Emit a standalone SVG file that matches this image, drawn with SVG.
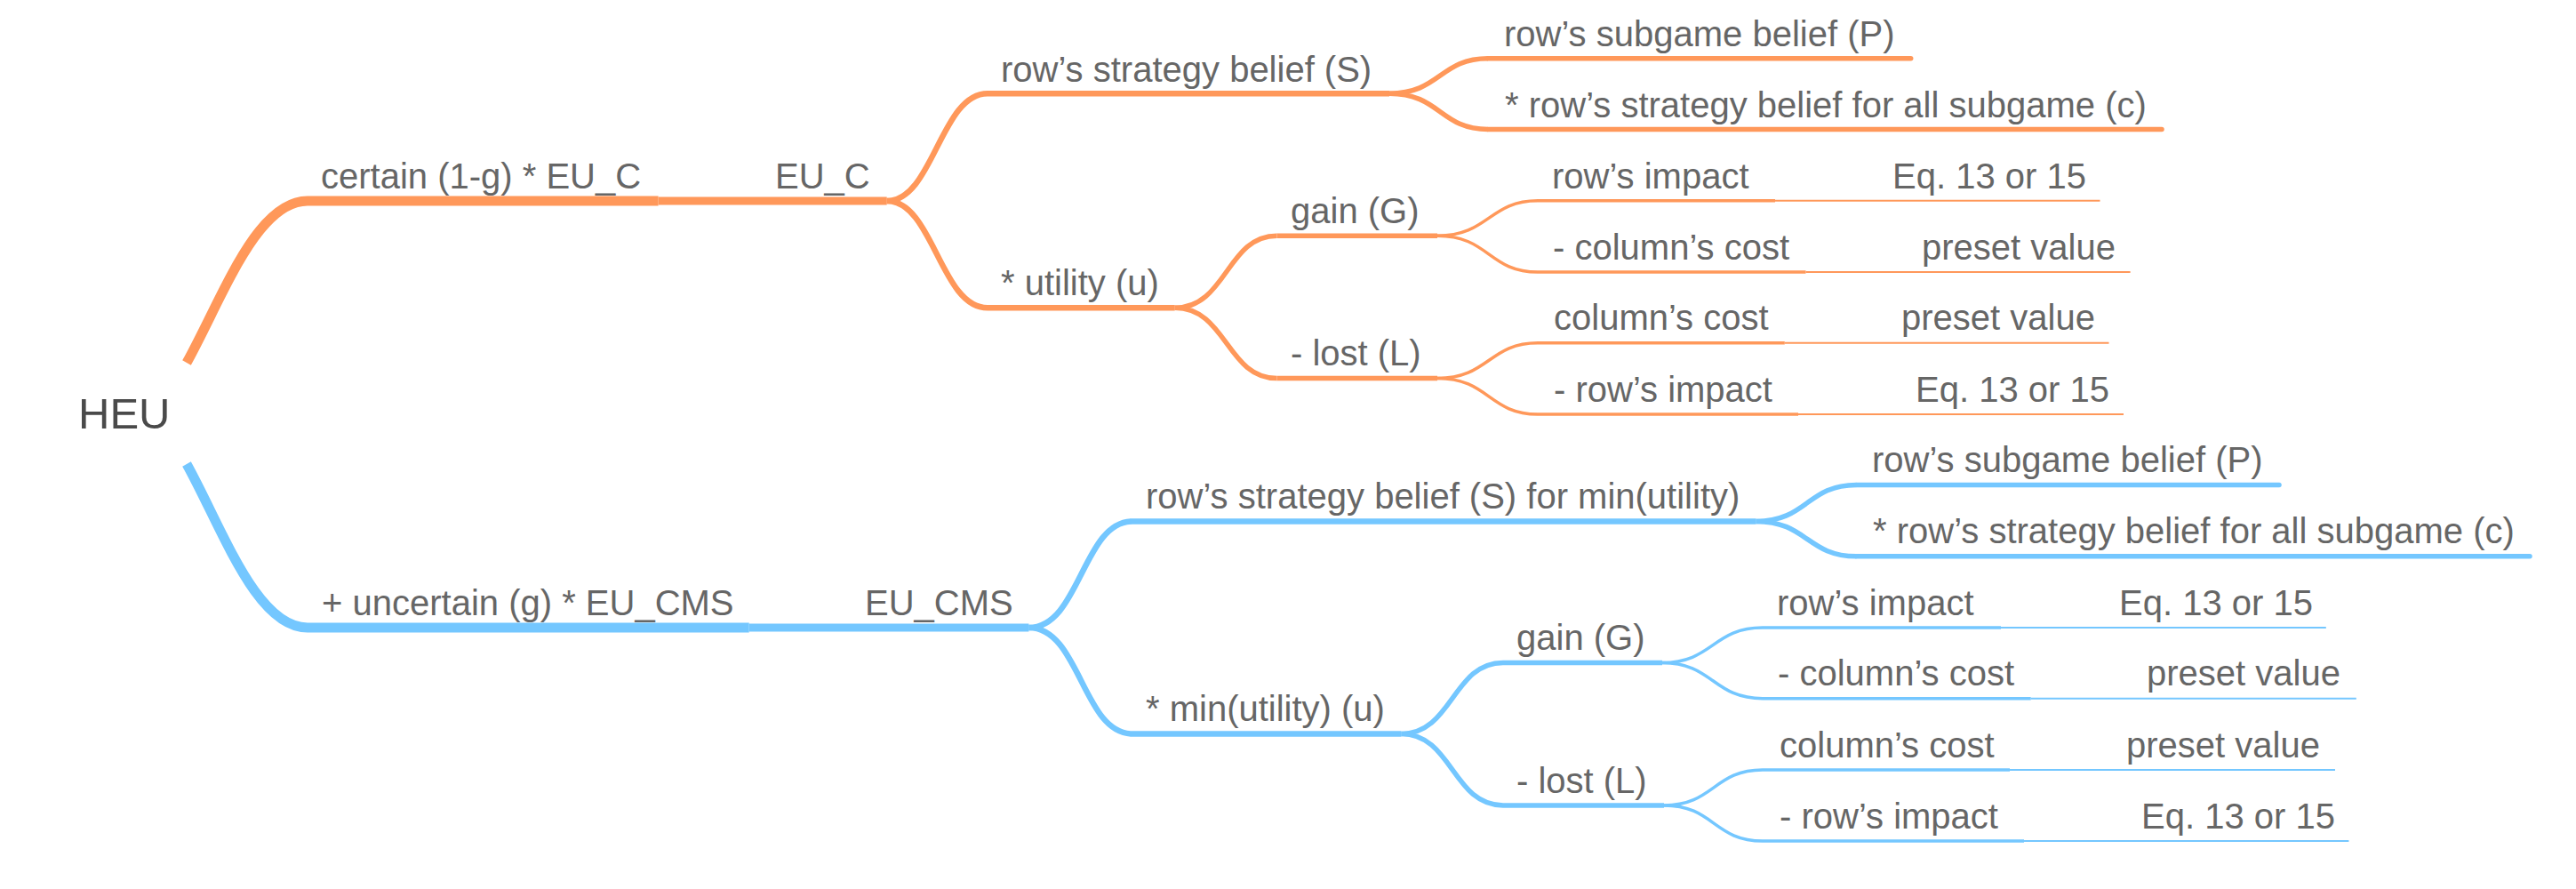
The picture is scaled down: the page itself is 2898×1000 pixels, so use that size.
<svg xmlns="http://www.w3.org/2000/svg" width="2898" height="1000" viewBox="0 0 2898 1000">
<style>
.t{font-family:"Liberation Sans",Arial,Helvetica,sans-serif;font-size:40px;fill:#666666}
.root{font-size:49px;fill:#4a4a4a}
.o{stroke:#FF985A;fill:none}
.b{stroke:#74C7FF;fill:none}
.w11{stroke-width:11}
.w9{stroke-width:9}
.w7{stroke-width:6.5}
.w5{stroke-width:5.5}
.w3{stroke-width:3.5}
.w2{stroke-width:2}
.rc{stroke-linecap:round}
</style>
<rect width="2898" height="1000" fill="#ffffff"/>
<g id="connectors">
  <path class="o w11" d="M210,408 C250,336 288,226 346,226"/>
  <path class="b w11" d="M210,522 C250,594 288,706 346,706"/>
  <path class="o w9" d="M740.6,226 H860"/>
  <path class="b w9" d="M842.7,706 H960"/>
  <path class="o w7" d="M997.7,226 C1050,226 1058,105.2 1111,105.2"/>
  <path class="o w7" d="M997.7,226 C1050,226 1058,346.3 1111,346.3"/>
  <path class="o w5" d="M1563,105.2 C1620,105.2 1620,65.8 1674,65.8"/>
  <path class="o w5" d="M1563,105.2 C1620,105.2 1620,145.4 1674,145.4"/>
  <path class="o w5" d="M1321.7,346.3 C1380,346.3 1380,265.2 1436.5,265.2"/>
  <path class="o w5" d="M1321.7,346.3 C1380,346.3 1380,425.5 1436.5,425.5"/>
  <path class="o w3" d="M1617,265.2 C1675,265.2 1675,225.8 1730,225.8"/>
  <path class="o w3" d="M1617,265.2 C1675,265.2 1675,306.1 1730,306.1"/>
  <path class="o w3" d="M1617,425.5 C1675,425.5 1675,385.7 1730,385.7"/>
  <path class="o w3" d="M1617,425.5 C1675,425.5 1675,466 1730,466"/>
  <path class="o w2" d="M1997,225.8 H2115"/>
  <path class="o w2" d="M2031.5,306.1 H2148"/>
  <path class="o w2" d="M2007.8,385.7 H2124"/>
  <path class="o w2" d="M2023,466 H2140"/>
  <path class="b w7" d="M1157.4,706 C1215,706 1218,586.4 1274,586.4"/>
  <path class="b w7" d="M1157.4,706 C1215,706 1218,825.5 1274,825.5"/>
  <path class="b w5" d="M1975.5,586.4 C2033,586.4 2033,545.4 2088.4,545.4"/>
  <path class="b w5" d="M1975.5,586.4 C2033,586.4 2033,625.8 2088.4,625.8"/>
  <path class="b w5" d="M1576.4,825.5 C1634,825.5 1634,745.5 1691,745.5"/>
  <path class="b w5" d="M1576.4,825.5 C1634,825.5 1634,905.9 1691,905.9"/>
  <path class="b w3" d="M1870,745.5 C1927,745.5 1927,706.1 1983,706.1"/>
  <path class="b w3" d="M1870,745.5 C1927,745.5 1927,785.7 1983,785.7"/>
  <path class="b w3" d="M1872,905.9 C1928,905.9 1928,866 1983,866"/>
  <path class="b w3" d="M1872,905.9 C1928,905.9 1928,946 1983,946"/>
  <path class="b w2" d="M2251,706.1 H2368"/>
  <path class="b w2" d="M2284.7,785.7 H2400"/>
  <path class="b w2" d="M2261,866 H2377"/>
  <path class="b w2" d="M2277,946 H2394"/>
</g>
<g id="n-heu"><text class="t root" x="88" y="482">HEU</text></g>

<g id="n-certain"><path class="o w11" d="M346,226 H740.6"/><text class="t" x="361" y="212">certain (1-g) * EU_C</text></g>
<g id="n-euc"><path class="o w9" d="M860,226 H997.7"/><text class="t" x="872" y="212">EU_C</text></g>
<g id="n-o-s"><path class="o w7" d="M1111,105.2 H1563"/><text class="t" x="1126" y="91.5">row’s strategy belief (S)</text></g>
<g id="n-o-u"><path class="o w7" d="M1111,346.3 H1321.7"/><text class="t" x="1126" y="332">* utility (u)</text></g>
<g id="n-o-p"><path class="o w5 rc" d="M1674,65.8 H2149.7"/><text class="t" x="1692" y="52">row’s subgame belief (P)</text></g>
<g id="n-o-c"><path class="o w5 rc" d="M1674,145.4 H2432"/><text class="t" x="1693" y="131.5">* row’s strategy belief for all subgame (c)</text></g>
<g id="n-o-gain"><path class="o w5" d="M1436.5,265.2 H1617"/><text class="t" x="1452" y="251">gain (G)</text></g>
<g id="n-o-lost"><path class="o w5" d="M1436.5,425.5 H1617"/><text class="t" x="1452" y="411">- lost (L)</text></g>
<g id="n-o-ri"><path class="o w3" d="M1730,225.8 H1997"/><text class="t" x="1746" y="211.5">row’s impact</text></g>
<g id="n-o-eq1"><path class="o w2" d="M2115,225.8 H2362.5"/><text class="t" x="2129" y="211.5">Eq. 13 or 15</text></g>
<g id="n-o-cc"><path class="o w3" d="M1730,306.1 H2031.5"/><text class="t" x="1747" y="291.8">- column’s cost</text></g>
<g id="n-o-pv1"><path class="o w2" d="M2148,306.1 H2396.6"/><text class="t" x="2162" y="291.8">preset value</text></g>
<g id="n-o-cc2"><path class="o w3" d="M1730,385.7 H2007.8"/><text class="t" x="1748" y="371.4">column’s cost</text></g>
<g id="n-o-pv2"><path class="o w2" d="M2124,385.7 H2372.5"/><text class="t" x="2139" y="371.4">preset value</text></g>
<g id="n-o-ri2"><path class="o w3" d="M1730,466 H2023"/><text class="t" x="1748" y="451.7">- row’s impact</text></g>
<g id="n-o-eq2"><path class="o w2" d="M2140,466 H2389"/><text class="t" x="2155" y="451.7">Eq. 13 or 15</text></g>

<g id="n-uncertain"><path class="b w11" d="M346,706 H842.7"/><text class="t" x="362" y="691.5">+ uncertain (g) * EU_CMS</text></g>
<g id="n-eucms"><path class="b w9" d="M960,706 H1157.4"/><text class="t" x="973" y="691.5">EU_CMS</text></g>
<g id="n-b-s"><path class="b w7" d="M1274,586.4 H1975.5"/><text class="t" x="1289" y="571.5">row’s strategy belief (S) for min(utility)</text></g>
<g id="n-b-u"><path class="b w7" d="M1274,825.5 H1576.4"/><text class="t" x="1289" y="811">* min(utility) (u)</text></g>
<g id="n-b-p"><path class="b w5 rc" d="M2088.4,545.4 H2564"/><text class="t" x="2106" y="531">row’s subgame belief (P)</text></g>
<g id="n-b-c"><path class="b w5 rc" d="M2088.4,625.8 H2846"/><text class="t" x="2107" y="611">* row’s strategy belief for all subgame (c)</text></g>
<g id="n-b-gain"><path class="b w5" d="M1691,745.5 H1870"/><text class="t" x="1706" y="731">gain (G)</text></g>
<g id="n-b-lost"><path class="b w5" d="M1691,905.9 H1872"/><text class="t" x="1706" y="891.5">- lost (L)</text></g>
<g id="n-b-ri"><path class="b w3" d="M1983,706.1 H2251"/><text class="t" x="1999" y="691.6">row’s impact</text></g>
<g id="n-b-eq1"><path class="b w2" d="M2368,706.1 H2616.8"/><text class="t" x="2384" y="691.6">Eq. 13 or 15</text></g>
<g id="n-b-cc"><path class="b w3" d="M1983,785.7 H2284.7"/><text class="t" x="2000" y="771.2">- column’s cost</text></g>
<g id="n-b-pv1"><path class="b w2" d="M2400,785.7 H2650.8"/><text class="t" x="2415" y="771.2">preset value</text></g>
<g id="n-b-cc2"><path class="b w3" d="M1983,866 H2261"/><text class="t" x="2002" y="851.5">column’s cost</text></g>
<g id="n-b-pv2"><path class="b w2" d="M2377,866 H2627"/><text class="t" x="2392" y="851.5">preset value</text></g>
<g id="n-b-ri2"><path class="b w3" d="M1983,946 H2277"/><text class="t" x="2002" y="931.5">- row’s impact</text></g>
<g id="n-b-eq2"><path class="b w2" d="M2394,946 H2642.4"/><text class="t" x="2409" y="931.5">Eq. 13 or 15</text></g>
</svg>
